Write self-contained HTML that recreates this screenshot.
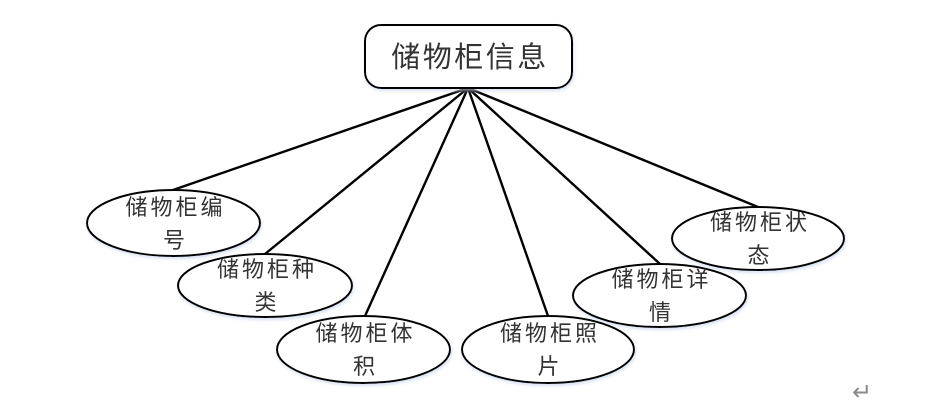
<!DOCTYPE html>
<html>
<head>
<meta charset="utf-8">
<style>
  html, body { margin: 0; padding: 0; background: #ffffff; }
  body { width: 932px; height: 414px; overflow: hidden; }
  svg { display: block; }
  text { font-family: "Liberation Sans", "Noto Sans CJK SC", sans-serif; fill: #333; }
</style>
</head>
<body>
<svg width="932" height="414" viewBox="0 0 932 414" xmlns="http://www.w3.org/2000/svg">
  <defs>
    <filter id="glow" x="-10%" y="-10%" width="120%" height="130%">
      <feDropShadow dx="1" dy="2" stdDeviation="1.5" flood-color="#c8d4ea" flood-opacity="0.7"/>
    </filter>
  </defs>

  <!-- connectors -->
  <g stroke="#000" stroke-width="2.4" fill="none" stroke-linecap="round">
    <line x1="468" y1="88" x2="173" y2="190"/>
    <line x1="468" y1="88" x2="265" y2="254"/>
    <line x1="468" y1="88" x2="365" y2="316"/>
    <line x1="468" y1="88" x2="548" y2="316"/>
    <line x1="468" y1="88" x2="660" y2="264"/>
    <line x1="468" y1="88" x2="758" y2="207"/>
  </g>

  <!-- root -->
  <rect x="365" y="25" width="207" height="63" rx="16" ry="16" fill="#fff" stroke="#000" stroke-width="2" filter="url(#glow)"/>
  <text x="470" y="67" font-size="29" letter-spacing="2.5" text-anchor="middle">储物柜信息</text>

  <!-- ellipses -->
  <g fill="#fff" stroke="#000" stroke-width="2" filter="url(#glow)">
    <ellipse cx="173.5" cy="223" rx="86.5" ry="33"/>
    <ellipse cx="265" cy="285.5" rx="87" ry="31.5"/>
    <ellipse cx="363.5" cy="349.5" rx="86.5" ry="33.5"/>
    <ellipse cx="548" cy="349.5" rx="86" ry="33.5"/>
    <ellipse cx="659.5" cy="295.5" rx="86.5" ry="31.5"/>
    <ellipse cx="758" cy="238.5" rx="86" ry="31.5"/>
  </g>

  <g font-size="22" letter-spacing="3" text-anchor="middle">
    <text x="175.5" y="215">储物柜编</text>
    <text x="175.5" y="248">号</text>

    <text x="267" y="277">储物柜种</text>
    <text x="267" y="310">类</text>

    <text x="365.5" y="341">储物柜体</text>
    <text x="365.5" y="374">积</text>

    <text x="550" y="341">储物柜照</text>
    <text x="550" y="374">片</text>

    <text x="661.5" y="287">储物柜详</text>
    <text x="661.5" y="320">情</text>

    <text x="760" y="230">储物柜状</text>
    <text x="760" y="263">态</text>
  </g>

  <!-- paragraph mark -->
  <text x="852" y="400" font-size="24" style="fill:#8a8a8a">↵</text>
</svg>
</body>
</html>
